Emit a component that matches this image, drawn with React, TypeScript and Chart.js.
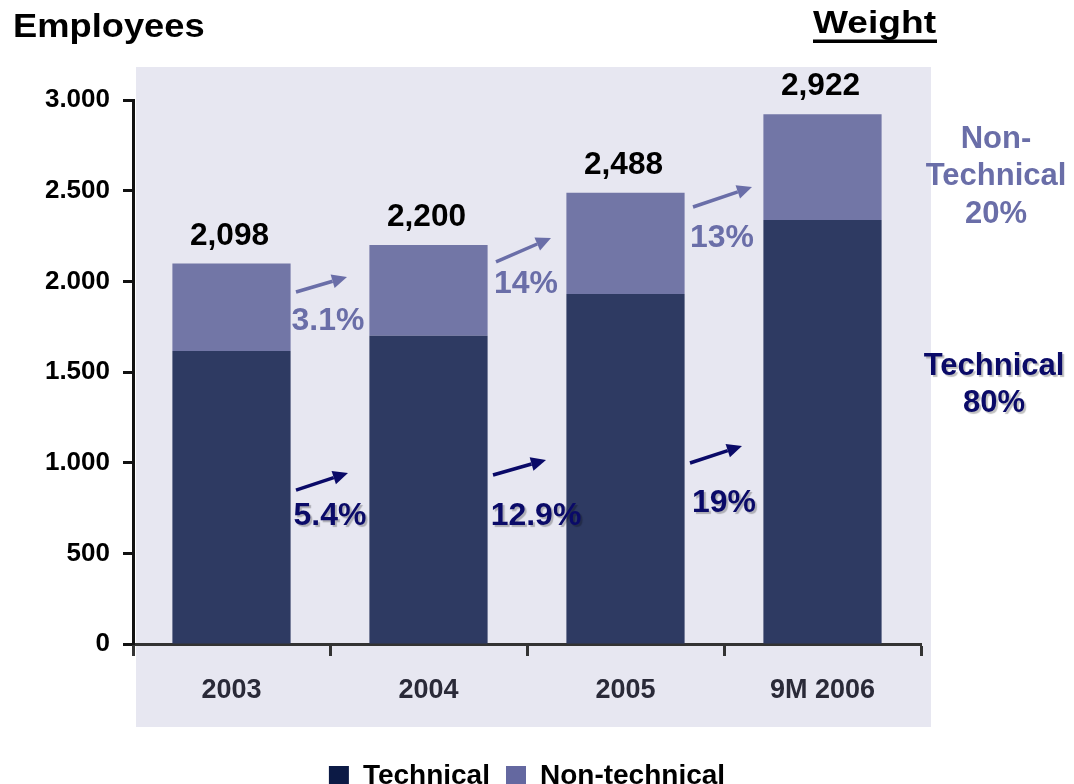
import React, { useEffect, useRef } from "react";
import { Chart, registerables } from "chart.js";

Chart.register(...registerables);

// ---- data ----
const categories = ["2003", "2004", "2005", "9M 2006"];
const technical = [1616, 1700, 1930, 2338];
const nonTechnical = [482, 500, 558, 584];
const totalLabels = ["2,098", "2,200", "2,488", "2,922"];
const yTickLabels = ["0", "500", "1.000", "1.500", "2.000", "2.500", "3.000"];
const techGrowth = ["5.4%", "12.9%", "19%"];
const nonTechGrowth = ["3.1%", "14%", "13%"];
const seriesNames = ["Technical", "Non-technical"];
const techWeight = ["Technical", "80%"];
const nonTechWeight = ["Non-", "Technical", "20%"];

const FONT = "'Liberation Sans', Arial, Helvetica, sans-serif";
const TECH_COLOR = "#2e3a62";
const NONTECH_COLOR = "#7276a6";
const LEGEND_COLORS = ["#0c1a45", "#6468a0"];
const TECH_TEXT = "#0a0a68";
const NONTECH_TEXT = "#6a6ea8";
const PANEL = "#e7e7f1";

function drawText(
  ctx: CanvasRenderingContext2D,
  s: string,
  x: number,
  y: number,
  size: number,
  color: string,
  align: CanvasTextAlign,
  sx = 1,
  shadow = false
) {
  ctx.save();
  ctx.font = `bold ${size}px ${FONT}`;
  ctx.fillStyle = color;
  ctx.textAlign = align;
  ctx.textBaseline = "alphabetic";
  ctx.translate(x, y);
  ctx.scale(sx, 1);
  if (shadow) {
    ctx.shadowColor = "rgba(0,0,0,0.25)";
    ctx.shadowOffsetX = 2;
    ctx.shadowOffsetY = 2;
    ctx.shadowBlur = 1;
  }
  ctx.fillText(s, 0, 0);
  ctx.restore();
}

function drawArrow(
  ctx: CanvasRenderingContext2D,
  x0: number,
  y0: number,
  x1: number,
  y1: number,
  color: string
) {
  const ang = Math.atan2(y1 - y0, x1 - x0);
  const head = 15;
  const hw = 7;
  const bx = x1 - head * Math.cos(ang);
  const by = y1 - head * Math.sin(ang);
  ctx.save();
  ctx.strokeStyle = color;
  ctx.fillStyle = color;
  ctx.lineWidth = 3.5;
  ctx.beginPath();
  ctx.moveTo(x0, y0);
  ctx.lineTo(bx, by);
  ctx.stroke();
  ctx.beginPath();
  ctx.moveTo(x1, y1);
  ctx.lineTo(bx - hw * Math.sin(ang), by + hw * Math.cos(ang));
  ctx.lineTo(bx + hw * Math.sin(ang), by - hw * Math.cos(ang));
  ctx.closePath();
  ctx.fill();
  ctx.restore();
}

const panelPlugin = {
  id: "panel",
  beforeDraw(chart: any) {
    const { ctx, chartArea } = chart;
    ctx.save();
    ctx.fillStyle = PANEL;
    ctx.fillRect(
      chartArea.left + 3,
      chartArea.top - 33,
      chartArea.right - chartArea.left + 7,
      chartArea.bottom - chartArea.top + 116
    );
    ctx.restore();
  },
};

// anchors of growth annotations: [dx from category boundary, value]
const nonTechAnchors = [
  { a: [-34, 1941], b: [17, 2024], l: [-2, 1732] },
  { a: [-31, 2107], b: [24, 2239], l: [-1, 1936] },
  { a: [-31, 2410], b: [28, 2520], l: [-2, 2189] },
];
const techAnchors = [
  { a: [-34, 849], b: [18, 943], l: [0, 656] },
  { a: [-34, 932], b: [19, 1015], l: [9, 656] },
  { a: [-34, 998], b: [18, 1092], l: [0, 728] },
];

const annotationPlugin = {
  id: "annotations",
  afterDatasetsDraw(chart: any) {
    const { ctx, chartArea } = chart;
    const xs = chart.scales.x;
    const ys = chart.scales.y;

    // totals above bars
    const meta = chart.getDatasetMeta(1);
    meta.data.forEach((bar: any, i: number) => {
      drawText(ctx, totalLabels[i], bar.x - 2, bar.y - 19, 31, "#000", "center", 1.02);
    });

    // growth arrows
    for (let i = 0; i < categories.length - 1; i++) {
      const bnd = (xs.getPixelForValue(i) + xs.getPixelForValue(i + 1)) / 2;
      const n = nonTechAnchors[i];
      drawArrow(
        ctx,
        bnd + n.a[0],
        ys.getPixelForValue(n.a[1]),
        bnd + n.b[0],
        ys.getPixelForValue(n.b[1]),
        NONTECH_TEXT
      );
      drawText(ctx, nonTechGrowth[i], bnd + n.l[0], ys.getPixelForValue(n.l[1]), 31, NONTECH_TEXT, "center", 1.03);
      const t = techAnchors[i];
      drawArrow(
        ctx,
        bnd + t.a[0],
        ys.getPixelForValue(t.a[1]),
        bnd + t.b[0],
        ys.getPixelForValue(t.b[1]),
        TECH_TEXT
      );
      drawText(ctx, techGrowth[i], bnd + t.l[0], ys.getPixelForValue(t.l[1]), 31, TECH_TEXT, "center", 1.03, true);
    }

    // weights on the right
    const cx = chartArea.right + 75;
    const nb = [48, 85, 123];
    nonTechWeight.forEach((s, i) =>
      drawText(ctx, s, cx, chartArea.top + nb[i], 31, NONTECH_TEXT, "center", 1.0)
    );
    const tb = [275, 312];
    techWeight.forEach((s, i) =>
      drawText(ctx, s, cx - 2, chartArea.top + tb[i], 31, TECH_TEXT, "center", 1.0, true)
    );

    // headings
    drawText(ctx, "Employees", 13, 37, 33, "#000", "left", 1.1);
    drawText(ctx, "Weight", 813, 33, 32, "#000", "left", 1.16);
    ctx.save();
    ctx.fillStyle = "#000";
    ctx.fillRect(813, 39.5, 124, 3.5);
    ctx.restore();
  },
};

export default function App() {
  const ref = useRef<HTMLCanvasElement>(null);

  useEffect(() => {
    if (!ref.current) return;
    const chart = new Chart(ref.current, {
      type: "bar",
      data: {
        labels: categories,
        datasets: [
          {
            label: seriesNames[0],
            data: technical,
            backgroundColor: TECH_COLOR,
            borderWidth: 0,
            barPercentage: 0.6,
            categoryPercentage: 1,
          },
          {
            label: seriesNames[1],
            data: nonTechnical,
            backgroundColor: NONTECH_COLOR,
            borderWidth: 0,
            barPercentage: 0.6,
            categoryPercentage: 1,
          },
        ],
      },
      options: {
        responsive: false,
        animation: false,
        layout: { padding: { top: 100, right: 153, bottom: 0, left: 0 } },
        plugins: {
          tooltip: { enabled: false },
          legend: {
            position: "bottom",
            fullSize: false,
            align: "center",
            labels: {
              boxWidth: 20,
              boxHeight: 20,
              padding: 16,
              color: "#000",
              font: { family: FONT, size: 28, weight: "bold" },
              generateLabels: (c: any) =>
                (Chart.defaults.plugins.legend.labels as any)
                  .generateLabels(c)
                  .map((l: any, i: number) => ({
                    ...l,
                    fillStyle: LEGEND_COLORS[i],
                    strokeStyle: LEGEND_COLORS[i],
                    lineWidth: 0,
                  })),
            },
          },
        },
        scales: {
          x: {
            stacked: true,
            grid: {
              display: true,
              offset: true,
              drawOnChartArea: false,
              drawTicks: true,
              tickLength: 12,
              tickWidth: 3,
              tickColor: "#333",
              color: "#333",
            },
            border: { display: true, color: "#333", width: 3 },
            ticks: {
              color: "#2a2a38",
              padding: 18,
              font: { family: FONT, size: 27, weight: "bold" },
            },
            afterFit: (s: any) => {
              s.height = 102;
            },
          },
          y: {
            stacked: true,
            min: 0,
            max: 3000,
            ticks: {
              stepSize: 500,
              padding: 13,
              color: "#000",
              font: { family: FONT, size: 26, weight: "bold" },
              callback: (_v: any, i: number) => yTickLabels[i],
            },
            grid: {
              drawOnChartArea: false,
              drawTicks: true,
              tickLength: 10,
              tickWidth: 3,
              tickColor: "#111",
            },
            border: { display: true, color: "#111", width: 3 },
            afterFit: (s: any) => {
              s.width = 133;
            },
          },
        },
      },
      plugins: [panelPlugin, annotationPlugin],
    });
    return () => chart.destroy();
  }, []);

  return (
    <div
      style={{
        position: "fixed",
        left: 0,
        top: 0,
        width: 1074,
        height: 784,
        overflow: "hidden",
        background: "#fff",
      }}
    >
      <canvas ref={ref} width={1074} height={800} style={{ display: "block", width: 1074, height: 800 }} />
    </div>
  );
}
